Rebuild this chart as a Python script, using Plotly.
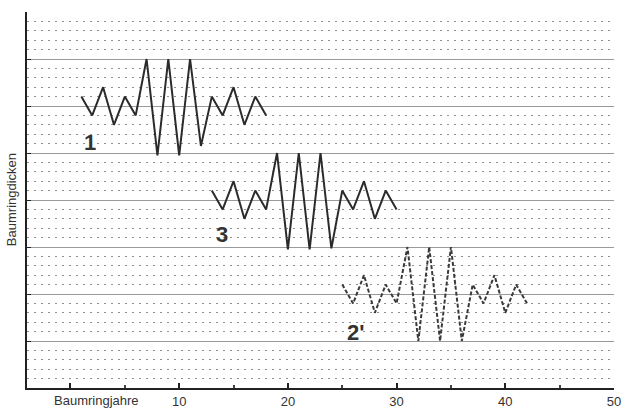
import plotly.graph_objects as go

# Data
x1 = list(range(1, 19))
y1 = [6.2, 5.8, 6.4, 5.6, 6.2, 5.8, 7.0, 4.95, 7.0, 4.95, 7.0, 5.15, 6.2, 5.8, 6.4, 5.6, 6.2, 5.8]
x3 = list(range(13, 31))
y3 = [4.2, 3.8, 4.4, 3.6, 4.2, 3.8, 5.0, 2.95, 5.0, 2.95, 5.0, 2.97, 4.2, 3.8, 4.4, 3.6, 4.2, 3.8]
x2 = list(range(25, 43))
y2 = [2.2, 1.8, 2.4, 1.6, 2.2, 1.8, 3.0, 1.0, 3.0, 1.0, 3.0, 1.0, 2.2, 1.8, 2.4, 1.6, 2.2, 1.8]

labels = ["1", "3", "2'"]
label_x = [1.8, 13.9, 26.2]
label_y = [5.23, 3.26, 1.19]

x_tickvals = [0, 10, 20, 30, 40, 50]
x_ticktext = ["", "10", "20", "30", "40", "50"]

FONT = "Liberation Sans, Arial"

fig = go.Figure()
line_color = "#2b2b2b"
fig.add_trace(go.Scatter(x=x1, y=y1, mode="lines", line=dict(color=line_color, width=2), showlegend=False))
fig.add_trace(go.Scatter(x=x3, y=y3, mode="lines", line=dict(color=line_color, width=2), showlegend=False))
fig.add_trace(go.Scatter(x=x2, y=y2, mode="lines", line=dict(color="#3a3a3a", width=2, dash="4px,2px"), showlegend=False))

for t, lx, ly in zip(labels, label_x, label_y):
    fig.add_annotation(x=lx, y=ly, xref="x", yref="y", text="<b>%s</b>" % t, showarrow=False,
                       font=dict(family=FONT, size=22, color="#333"))

fig.add_annotation(x=2.4, y=-0.011, xref="x", yref="paper", yanchor="top", text="Baumringjahre",
                   showarrow=False, borderpad=0, font=dict(family=FONT, size=13, color="#333"))
fig.add_annotation(x=-0.027, y=0.5, xref="paper", yref="paper", xanchor="center", yanchor="middle",
                   text="Baumringdicken", textangle=-90, showarrow=False,
                   font=dict(family=FONT, size=13, color="#333"))

fig.update_layout(
    width=622, height=408,
    margin=dict(l=27, r=8, t=12, b=20),
    paper_bgcolor="white", plot_bgcolor="white",
    font=dict(family=FONT, size=13, color="#333"),
    xaxis=dict(range=[-4, 50], tickvals=x_tickvals, ticktext=x_ticktext, automargin=False,
               showgrid=False, zeroline=False, showline=True, linecolor="#222", linewidth=2,
               ticks="inside", ticklen=5, tickwidth=1.5, tickcolor="#222",
               minor=dict(tickvals=[5, 15, 25, 35, 45], ticks="inside", ticklen=3, tickcolor="#444", showgrid=False),
               tickfont=dict(size=13, color="#333")),
    yaxis=dict(range=[0, 8], dtick=1, tick0=0, showticklabels=False, automargin=False,
               showgrid=True, gridcolor="#9a9a9a", gridwidth=1, zeroline=False,
               showline=True, linecolor="#222", linewidth=2,
               ticks="inside", ticklen=4, tickcolor="#222",
               minor=dict(dtick=0.2, showgrid=True, gridcolor="#8f8f8f", gridwidth=1.3, griddash="2px,5px")),
)

fig.write_html("out.html")
